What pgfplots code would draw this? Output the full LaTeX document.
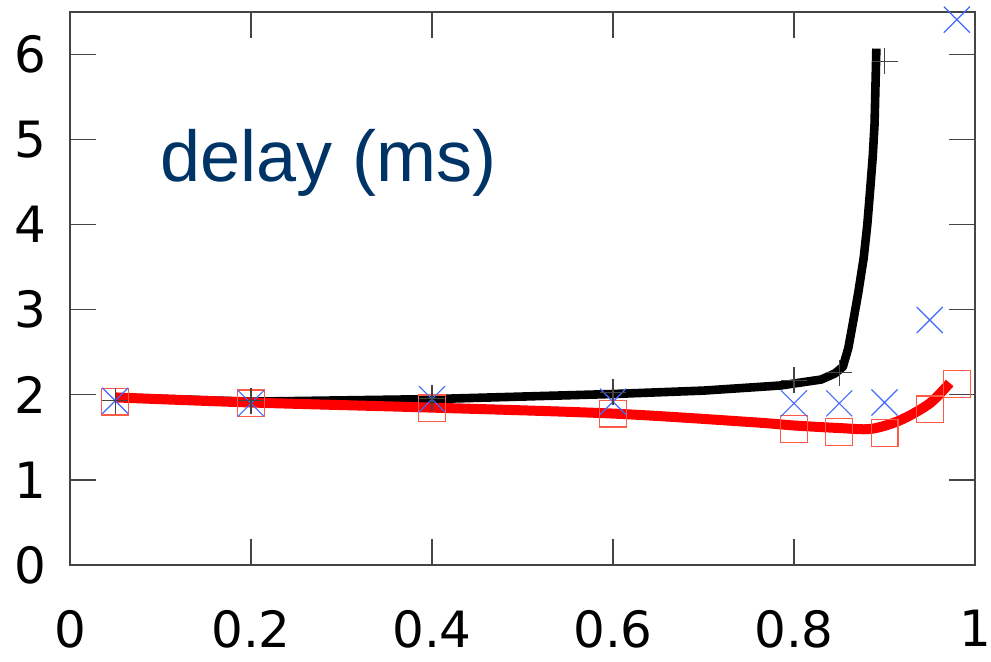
\documentclass[border=0pt]{standalone}
\usepackage{fontspec}
\setmainfont{DejaVu Sans}
\newfontfamily\titlefont{Liberation Sans}
\usepackage{pgfplots}
\pgfplotsset{compat=1.18}
\definecolor{titleblue}{HTML}{003366}
\definecolor{xblue}{HTML}{4169FF}
\definecolor{sqred}{HTML}{FF5A46}
\definecolor{axisgray}{HTML}{444444}

\begin{document}
\begin{tikzpicture}
\begin{axis}[name=ax,scale only axis,width=452.5pt,height=276.5pt,
  xmin=0,xmax=1,ymin=0,ymax=6.5,clip=false,
  xtick={0,0.2,0.4,0.6,0.8,1},ytick={0,1,2,3,4,5,6},
  axis line style={axisgray,line width=0.8pt},
  tick style={axisgray,line width=0.6pt},major tick length=13pt,
  tick label style={font=\fontsize{25}{30}\selectfont},
  /pgf/number format/assume math mode=true,
  xticklabel style={yshift=-19pt},
  yticklabel style={xshift=-8.5pt}]
% squares
\addplot[only marks,mark=square,mark size=6.7pt,mark options={sqred,line width=0.6pt}] coordinates {
(0.05,1.92) (0.2,1.9) (0.4,1.84) (0.6,1.78) (0.8,1.6) (0.85,1.56) (0.9,1.55) (0.95,1.83) (0.98,2.13)};
% crosses
\addplot[only marks,mark=x,mark size=9.2pt,mark options={xblue,line width=0.6pt}] coordinates {
(0.05,1.93) (0.2,1.9) (0.4,1.95) (0.6,1.92) (0.8,1.9) (0.85,1.9) (0.9,1.91) (0.95,2.88) (0.98,6.41)};
% plus
\addplot[only marks,mark=+,mark size=6.5pt,mark options={axisgray,line width=0.6pt}] coordinates {
(0.05,1.93) (0.2,1.93) (0.4,1.96) (0.6,2.03) (0.8,2.17) (0.85,2.26) (0.9,5.92)};
% fitted curves
\addplot[black,line width=4.3pt,line join=round] coordinates {
(0.05,1.97) (0.2,1.92) (0.4,1.95) (0.6,2.01) (0.7,2.05) (0.785,2.11) (0.83,2.18)
(0.845,2.25) (0.854,2.33) (0.860,2.55) (0.865,2.84) (0.871,3.2) (0.877,3.61) (0.881,4.0)
(0.884,4.39) (0.887,4.8) (0.889,5.18) (0.891,6.07)};
\addplot[red,line width=5pt,smooth,line cap=butt] coordinates {
(0.05,1.97) (0.2,1.91) (0.4,1.85) (0.6,1.78) (0.752,1.68) (0.8,1.64) (0.85,1.61)
(0.885,1.60) (0.917,1.70) (0.95,1.9) (0.972,2.14)};
\node[anchor=base west,inner sep=0pt,text=titleblue,font=\titlefont\fontsize{36}{40}\selectfont]
  at (axis cs:0.1,4.51) {delay (ms)};
\end{axis}
\pgfresetboundingbox
\path[use as bounding box] (-35pt,-48pt) rectangle (460.5pt,282.5pt);
\end{tikzpicture}
\end{document}
